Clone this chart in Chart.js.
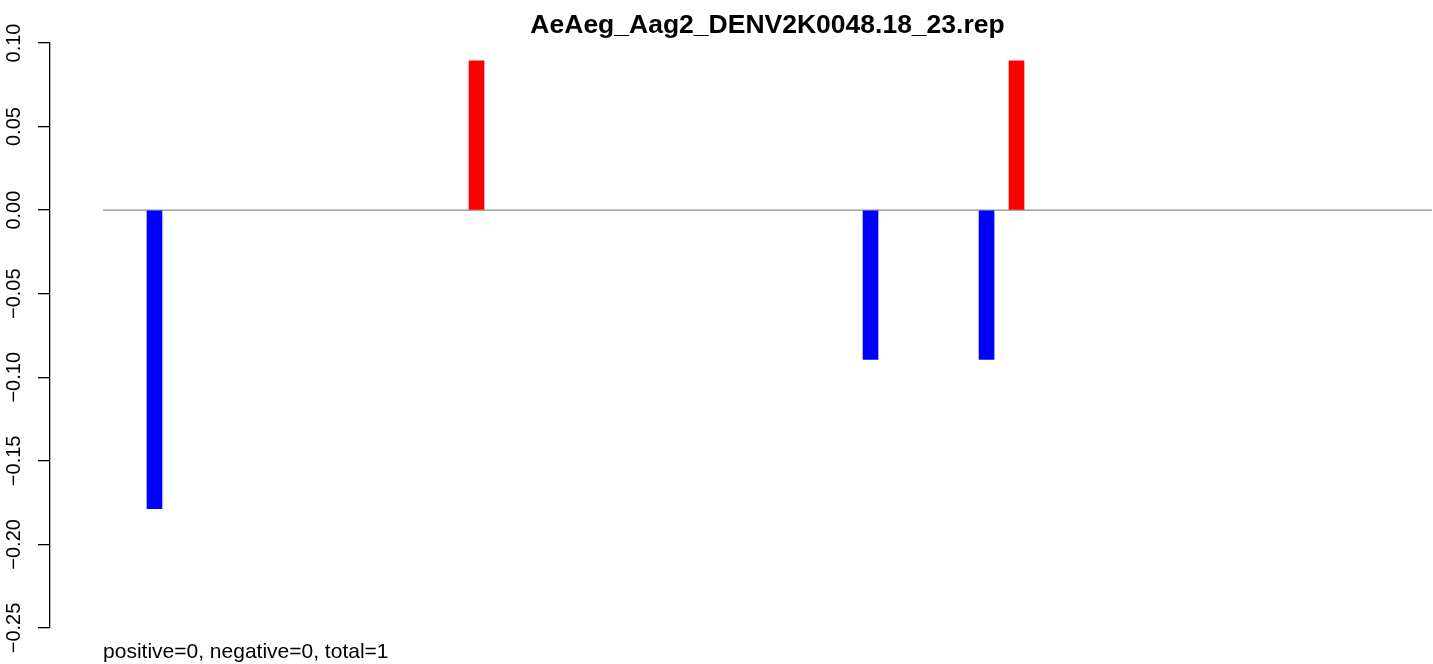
<!DOCTYPE html>
<html>
<head>
<meta charset="utf-8">
<title>AeAeg_Aag2_DENV2K0048.18_23.rep</title>
<script src="https://cdn.jsdelivr.net/npm/chart.js@4.4.1/dist/chart.umd.min.js"></script>
<style>
    html, body { margin: 0; padding: 0; background: #ffffff; }
    #repChart { display: block; }
</style>
</head>
<body>
<canvas id="repChart" width="1433" height="664"></canvas>
<script>
// genome positions (nt) and normalised counts
const genomeStart = 1;
const genomeEnd = 10723;
const positiveX = [3014, 7371];
const positiveY = [0.0893, 0.0893];
const negativeX = [416, 6193, 7129];
const negativeY = [-0.1786, -0.0893, -0.0893];
const yTicks = [-0.25, -0.20, -0.15, -0.10, -0.05, 0.00, 0.05, 0.10];

const chartTitle = "AeAeg_Aag2_DENV2K0048.18_23.rep";
const footNote = "positive=0, negative=0, total=1";

const fontFamily = "'Liberation Sans', Arial, Helvetica, sans-serif";

function toPoints(xs, ys) {
    let pts = [];
    for (let i in xs) {
        pts.push({x: xs[i], y: ys[i]});
    }
    return pts;
}

// title + footnote, R style (title centred over the data range, not the canvas)
const rTextPlugin = {
    id: "rText",
    afterDraw: function(chart) {
        const ctx = chart.ctx;
        const xs = chart.scales.x;
        const left = xs.getPixelForValue(genomeStart);
        const right = xs.getPixelForValue(genomeEnd);
        ctx.save();
        ctx.fillStyle = "#000000";
        ctx.textBaseline = "alphabetic";
        ctx.font = "bold 26.5px " + fontFamily;
        ctx.textAlign = "center";
        ctx.fillText(chartTitle, (left + right) / 2, 33);
        ctx.font = "21px " + fontFamily;
        ctx.textAlign = "left";
        ctx.fillText(footNote, left, 658);
        ctx.restore();
    }
};

new Chart(document.getElementById("repChart"), {
    type: "bar",
    data: {
        datasets: [
            {
                type: "line",
                label: "zero",
                data: [{x: genomeStart, y: 0}, {x: genomeEnd, y: 0}],
                borderColor: "#8c8c8c",
                borderWidth: 1.3,
                pointRadius: 0,
                order: 2
            },
            {
                label: "positive",
                data: toPoints(positiveX, positiveY),
                backgroundColor: "#ff0000",
                borderWidth: 0,
                barThickness: 15,
                grouped: false,
                order: 1
            },
            {
                label: "negative",
                data: toPoints(negativeX, negativeY),
                backgroundColor: "#0000ff",
                borderWidth: 0,
                barThickness: 15,
                grouped: false,
                order: 1
            }
        ]
    },
    options: {
        responsive: false,
        devicePixelRatio: 1,
        animation: false,
        layout: {
            padding: {top: 43, bottom: 36, left: 0, right: 1}
        },
        plugins: {
            legend: {display: false},
            title: {display: false},
            tooltip: {enabled: false}
        },
        scales: {
            x: {
                type: "linear",
                display: false,
                offset: false,
                min: -427,
                max: genomeEnd
            },
            y: {
                min: yTicks[0],
                max: yTicks[yTicks.length - 1],
                afterFit: function(scale) {
                    scale.width = 50;
                },
                afterBuildTicks: function(scale) {
                    scale.ticks = yTicks.map(function(v){ return {value: v}; });
                },
                border: {display: true, color: "#000000", width: 1.3},
                grid: {
                    drawOnChartArea: false,
                    drawTicks: true,
                    tickLength: 12,
                    color: "#000000",
                    lineWidth: 1.3
                },
                ticks: {
                    minRotation: 90,
                    maxRotation: 90,
                    crossAlign: "center",
                    padding: -2,
                    color: "#000000",
                    font: {family: fontFamily, size: 20},
                    callback: function(value) {
                        return Number(value).toFixed(2).replace("-", "\u2212");
                    }
                }
            }
        }
    },
    plugins: [rTextPlugin]
});
</script>
</body>
</html>
